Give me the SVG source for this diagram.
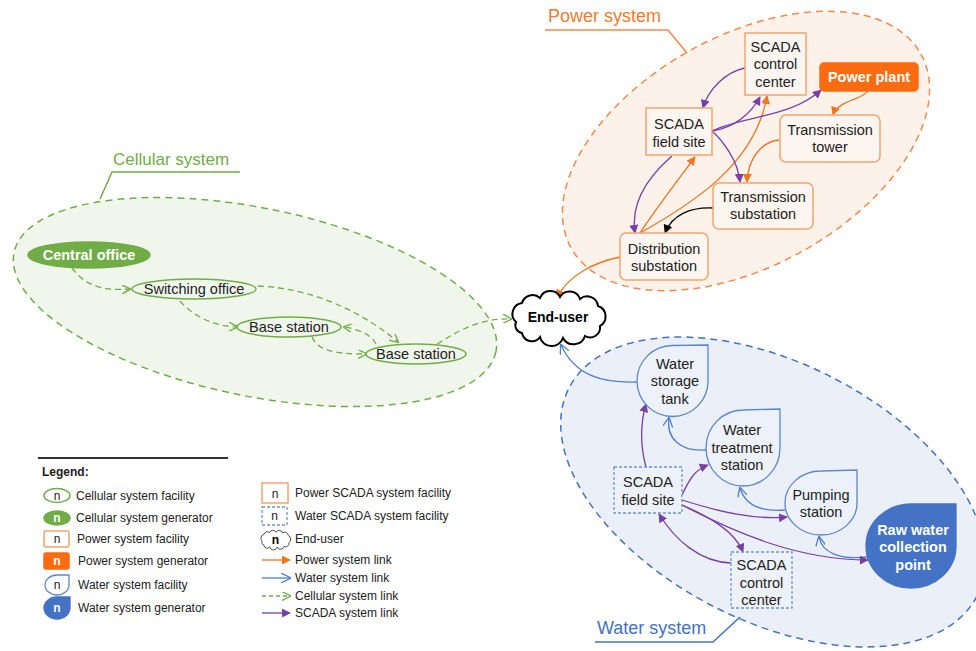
<svg xmlns="http://www.w3.org/2000/svg" width="976" height="651" viewBox="0 0 976 651">
<style>
text{font-family:"Liberation Sans",Arial,sans-serif;fill:#222}
.n{font-size:14.5px;text-anchor:middle}
.nb{font-size:14.5px;font-weight:bold;text-anchor:middle;fill:#fff}
.lg{font-size:12px}
.pw{fill:#fdf5f0;stroke:#f4a46f;stroke-width:1.5}
.pg{fill:#fb6b12;stroke:#fb6b12;stroke-width:1.5}
.cf{fill:#f0f6eb;stroke:#70ad47;stroke-width:1.5}
.cg{fill:#70ad47;stroke:#70ad47;stroke-width:1.5}
.wf{fill:#edf1f9;stroke:#5b87cf;stroke-width:1.3}
.wg{fill:#4472c4;stroke:#4472c4;stroke-width:1.3}
.ws{fill:#edf1f9;stroke:#6f94d2;stroke-width:1.3;stroke-dasharray:3 2}
.lp{fill:none;stroke:#f37321;stroke-width:1.3}
.lb{fill:none;stroke:#4f7fcf;stroke-width:1.3}
.lc{fill:none;stroke:#70ad47;stroke-width:1.3;stroke-dasharray:6 4}
.ls{fill:none;stroke:#7a3ea8;stroke-width:1.3}
.lk{fill:none;stroke:#000;stroke-width:1.3}
</style>
<defs>
<marker id="mp" viewBox="0 0 10 10" refX="9" refY="5" markerWidth="9" markerHeight="9" markerUnits="userSpaceOnUse" orient="auto"><path d="M0,0L10,5L0,10z" fill="#f37321"/></marker>
<marker id="ms" viewBox="0 0 10 10" refX="9" refY="5" markerWidth="9" markerHeight="9" markerUnits="userSpaceOnUse" orient="auto"><path d="M0,0L10,5L0,10z" fill="#7a3ea8"/></marker>
<marker id="mk" viewBox="0 0 10 10" refX="9" refY="5" markerWidth="9" markerHeight="9" markerUnits="userSpaceOnUse" orient="auto"><path d="M0,0L10,5L0,10z" fill="#000"/></marker>
<marker id="mb" viewBox="0 0 10 10" refX="9" refY="5" markerWidth="10" markerHeight="10" markerUnits="userSpaceOnUse" orient="auto"><path d="M0,0L10,5L0,10" fill="none" stroke="#4f7fcf" stroke-width="1.3"/></marker>
<marker id="mc" viewBox="0 0 10 10" refX="9" refY="5" markerWidth="9" markerHeight="9" markerUnits="userSpaceOnUse" orient="auto"><path d="M0,0L10,5L0,10" fill="none" stroke="#70ad47" stroke-width="1.5"/></marker>
<path id="cloud" d="M-42,5 A11 11 0 0 1 -36,-14 A11 11 0 0 1 -18,-19 A11 11 0 0 1 2,-20 A11 11 0 0 1 22,-18 A11 11 0 0 1 40,-11 A11 11 0 0 1 42,9 A10 10 0 0 1 27,19 A12 12 0 0 1 5,21 A12 12 0 0 1 -18,20 A10 10 0 0 1 -36,16 A8 8 0 0 1 -42,5 Z"/>
</defs>

<!-- system regions -->
<g id="power-system">
<ellipse cx="746" cy="151" rx="200" ry="115" transform="rotate(-29 746 151)" fill="#fdf2ea" stroke="#f4894b" stroke-width="1.5" stroke-dasharray="7 5"/>
<polyline points="545,30 668,30 687,53" fill="none" stroke="#f4894b" stroke-width="1.5"/>
<text x="548" y="22" style="font-size:18px;fill:#f07b2e">Power system</text>
</g>
<g id="cellular-system">
<ellipse cx="255" cy="302" rx="246" ry="94" transform="rotate(11.6 255 302)" fill="#f0f6eb" stroke="#70ad47" stroke-width="1.5" stroke-dasharray="7 5"/>
<polyline points="240,172 112,172 100,199" fill="none" stroke="#70ad47" stroke-width="1.5"/>
<text x="113" y="165" style="font-size:17px;fill:#70ad47">Cellular system</text>
</g>
<g id="water-system">
<ellipse cx="773" cy="492" rx="229" ry="129" transform="rotate(27 773 492)" fill="#ebeff8" stroke="#4472c4" stroke-width="1.5" stroke-dasharray="7 5"/>
<polyline points="595,642 713,642 740,617" fill="none" stroke="#4472c4" stroke-width="1.5"/>
<text x="597" y="634" style="font-size:18px;fill:#4472c4">Water system</text>
</g>

<!-- connectors -->
<g id="connectors">
<!-- power -->
<path class="lp" marker-end="url(#mp)" d="M868,91 C862,100 838,100 833,115"/>
<path class="lp" marker-end="url(#mp)" d="M779,140 C760,142 748,160 747,182"/>
<path class="lp" marker-end="url(#mp)" d="M640,233 C655,210 678,180 695,157"/>
<path class="lp" marker-end="url(#mp)" d="M640,233 C690,205 755,165 767,96"/>
<path class="lp" marker-end="url(#mp)" d="M620,257 C595,262 568,275 557,298"/>
<path class="lk" marker-end="url(#mk)" d="M713,208 C690,207 672,215 665,233"/>
<!-- power scada -->
<path class="ls" marker-end="url(#ms)" d="M745,68 C725,72 708,90 703,108"/>
<path class="ls" marker-end="url(#ms)" d="M712,131 C735,128 752,112 760,97"/>
<path class="ls" marker-end="url(#ms)" d="M712,131 C745,115 790,118 821,90"/>
<path class="ls" marker-end="url(#ms)" d="M712,131 C722,140 738,160 740,182"/>
<path class="ls" marker-end="url(#ms)" d="M672,156 C650,175 630,200 635,233"/>
<!-- cellular -->
<path class="lc" marker-end="url(#mc)" d="M72,268 C85,285 100,291 130,289"/>
<path class="lc" marker-end="url(#mc)" d="M180,301 C195,318 215,326 237,327"/>
<path class="lc" marker-end="url(#mc)" d="M258,286 C310,288 360,310 398,342"/>
<path class="lc" marker-end="url(#mc)" d="M376,344 C372,335 358,329 344,327"/>
<path class="lc" marker-end="url(#mc)" d="M312,337 C318,352 340,354 366,354"/>
<path class="lc" marker-end="url(#mc)" d="M437,344 C460,330 480,318 511,319"/>
<!-- water -->
<path class="lb" marker-end="url(#mb)" d="M637,382 C600,383 575,375 561,345"/>
<path class="lb" marker-end="url(#mb)" d="M706,450 C680,452 666,438 669,418"/>
<path class="lb" marker-end="url(#mb)" d="M785,510 C760,512 745,505 740,488"/>
<path class="lb" marker-end="url(#mb)" d="M867,557 C840,560 822,553 819,537"/>
<!-- water scada -->
<path class="ls" marker-end="url(#ms)" d="M646,467 C640,445 640,425 646,404"/>
<path class="ls" marker-end="url(#ms)" d="M682,495 C690,478 695,470 708,465"/>
<path class="ls" marker-end="url(#ms)" d="M682,500 C720,512 755,520 787,517"/>
<path class="ls" marker-end="url(#ms)" d="M682,505 C712,518 735,532 743,552"/>
<path class="ls" marker-end="url(#ms)" d="M682,505 C740,535 800,560 868,560"/>
<path class="ls" marker-end="url(#ms)" d="M731,563 C700,562 675,540 659,514"/>
</g>

<!-- power nodes -->
<g id="power-scada-control-center"><rect class="pw" x="745" y="33" width="61" height="62"/><text class="n" x="775.5" y="52">SCADA</text><text class="n" x="775.5" y="69">control</text><text class="n" x="775.5" y="87">center</text></g>
<g id="power-plant"><rect class="pg" x="820" y="63" width="98" height="28" rx="4"/><text class="nb" x="869" y="82">Power plant</text></g>
<g id="power-scada-field-site"><rect class="pw" x="646" y="108" width="66" height="47"/><text class="n" x="679" y="129">SCADA</text><text class="n" x="679" y="147">field site</text></g>
<g id="transmission-tower"><rect class="pw" x="780" y="115" width="100" height="47" rx="6"/><text class="n" x="830" y="135">Transmission</text><text class="n" x="830" y="152">tower</text></g>
<g id="transmission-substation"><rect class="pw" x="713" y="183" width="100" height="46" rx="6"/><text class="n" x="763" y="202">Transmission</text><text class="n" x="763" y="219">substation</text></g>
<g id="distribution-substation"><rect class="pw" x="620" y="233" width="88" height="47" rx="6"/><text class="n" x="664" y="254">Distribution</text><text class="n" x="664" y="271">substation</text></g>

<!-- end user -->
<g id="end-user"><use href="#cloud" transform="translate(558,317)" fill="#fff" stroke="#000" stroke-width="2"/><text x="558" y="322" style="font-size:14px;font-weight:bold;text-anchor:middle;fill:#000">End-user</text></g>

<!-- cellular nodes -->
<g id="central-office"><ellipse class="cg" cx="89" cy="255" rx="61" ry="13"/><text class="nb" x="89" y="260">Central office</text></g>
<g id="switching-office"><ellipse class="cf" cx="194" cy="289" rx="62" ry="10"/><text class="n" x="194" y="294">Switching office</text></g>
<g id="base-station-1"><ellipse class="cf" cx="289" cy="327" rx="52" ry="10"/><text class="n" x="289" y="332">Base station</text></g>
<g id="base-station-2"><ellipse class="cf" cx="416" cy="354" rx="50" ry="10"/><text class="n" x="416" y="359">Base station</text></g>

<!-- water nodes -->
<g id="water-storage-tank"><path class="wf" d="M708,345 L708,381 A35.5 35.5 0 1 1 672.5,345.5 Z"/><text class="n" x="675" y="369">Water</text><text class="n" x="675" y="386">storage</text><text class="n" x="675" y="404">tank</text></g>
<g id="water-treatment-station"><path class="wf" d="M780,409 L780,448 A37 38 0 1 1 743,410 Z"/><text class="n" x="742" y="435">Water</text><text class="n" x="742" y="453">treatment</text><text class="n" x="742" y="470">station</text></g>
<g id="pumping-station"><path class="wf" d="M857,470 L857,503 A36 32 0 1 1 821,471 Z"/><text class="n" x="821" y="500">Pumping</text><text class="n" x="821" y="517">station</text></g>
<g id="raw-water-collection-point"><path class="wg" d="M956,504 L956,546 A45 42 0 1 1 911,504 Z"/><text class="nb" x="913" y="535">Raw water</text><text class="nb" x="913" y="552">collection</text><text class="nb" x="913" y="570">point</text></g>
<g id="water-scada-field-site"><rect class="ws" x="614" y="467" width="68" height="46"/><text class="n" x="648" y="487">SCADA</text><text class="n" x="648" y="505">field site</text></g>
<g id="water-scada-control-center"><rect class="ws" x="731" y="552" width="61" height="56"/><text class="n" x="761.5" y="570">SCADA</text><text class="n" x="761.5" y="588">control</text><text class="n" x="761.5" y="605">center</text></g>

<!-- legend -->
<g id="legend">
<line x1="38" y1="458" x2="228" y2="458" stroke="#333" stroke-width="2"/>
<text x="42" y="476" class="lg" style="font-weight:bold">Legend:</text>
<ellipse class="cf" cx="57" cy="495.5" rx="13" ry="7" style="fill:#fff"/><text x="57" y="500" class="lg" style="text-anchor:middle">n</text><text x="76" y="500" class="lg">Cellular system facility</text>
<ellipse class="cg" cx="57" cy="518" rx="13" ry="7"/><text x="57" y="522" class="lg" style="text-anchor:middle;fill:#fff;font-weight:bold">n</text><text x="76" y="522" class="lg">Cellular system generator</text>
<rect class="pw" x="44" y="531" width="25" height="16" rx="2" style="fill:#fff"/><text x="57" y="543" class="lg" style="text-anchor:middle">n</text><text x="77" y="543" class="lg">Power system facility</text>
<rect class="pg" x="44" y="553" width="25" height="16" rx="2"/><text x="57" y="565" class="lg" style="text-anchor:middle;fill:#fff;font-weight:bold">n</text><text x="78" y="565" class="lg">Power system generator</text>
<path class="wf" d="M69,575 L69,585 A12 10 0 1 1 57,575 Z" style="fill:#fff"/><text x="57" y="589" class="lg" style="text-anchor:middle">n</text><text x="78" y="589" class="lg">Water system facility</text>
<path class="wg" d="M70,597 L70,608 A13 11 0 1 1 57,597 Z"/><text x="57" y="612" class="lg" style="text-anchor:middle;fill:#fff;font-weight:bold">n</text><text x="78" y="612" class="lg">Water system generator</text>
<rect class="pw" x="262" y="483" width="26" height="20" style="fill:#fff;stroke-width:1.5"/><text x="275" y="498" class="lg" style="text-anchor:middle">n</text><text x="295" y="497" class="lg">Power SCADA system facility</text>
<rect class="ws" x="262" y="507" width="25" height="18" style="fill:#fff"/><text x="274.5" y="520" class="lg" style="text-anchor:middle">n</text><text x="295" y="520" class="lg">Water SCADA system facility</text>
<use href="#cloud" transform="translate(275.5,539.5) scale(0.32,0.36)" fill="#fff" stroke="#000" stroke-width="2" style="vector-effect:non-scaling-stroke"/><text x="275.5" y="544" class="lg" style="text-anchor:middle;font-weight:bold;fill:#000">n</text><text x="295" y="543" class="lg">End-user</text>
<line class="lp" x1="262" y1="560" x2="290" y2="560" marker-end="url(#mp)"/><text x="295" y="564" class="lg">Power system link</text>
<line class="lb" x1="262" y1="578" x2="290" y2="578" marker-end="url(#mb)"/><text x="295" y="582" class="lg">Water system link</text>
<line class="lc" x1="262" y1="596" x2="290" y2="596" style="stroke-dasharray:4 3" marker-end="url(#mc)"/><text x="295" y="600" class="lg">Cellular system link</text>
<line class="ls" x1="262" y1="613" x2="290" y2="613" marker-end="url(#ms)"/><text x="295" y="617" class="lg">SCADA system link</text>
</g>
</svg>
